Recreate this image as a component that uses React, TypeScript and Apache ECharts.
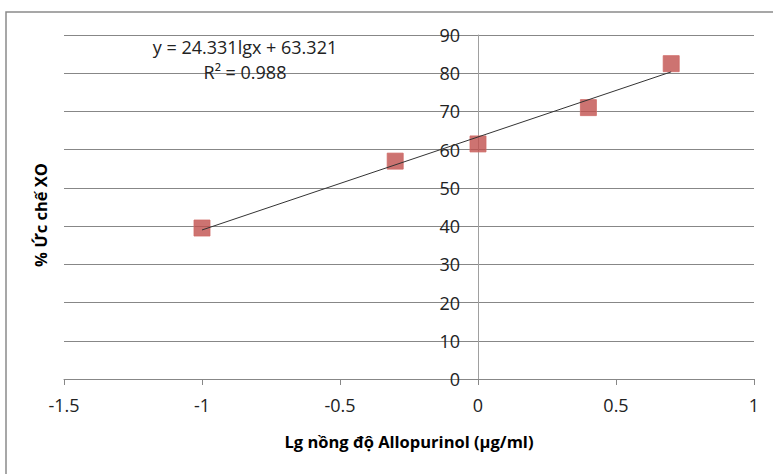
import React, { useEffect, useRef } from "react";
import * as echarts from "echarts";

const lgConc = [-1, -0.3, 0, 0.4, 0.7];
const inhibition = [39.5, 57, 61.5, 71, 82.5];
const trendCoef = [24.331, 63.321]; // slope, intercept
const trendX = [-1, 0.7];
const eqText = ["y = 24.331lgx + 63.321", "R² = 0.988"];

export default function App() {
  const ref = useRef<HTMLDivElement>(null);
  useEffect(() => {
    document.body.style.margin = "0";
    const chart = echarts.init(ref.current!, null, { renderer: "svg" });
    const font = "'Open Sans', 'Noto Sans', sans-serif";
    const gray = "#878787";
    chart.setOption({
      animation: false,
      backgroundColor: "#ffffff",
      grid: { left: 64, right: 19, top: 35, bottom: 95 },
      xAxis: {
        type: "value",
        min: -1.5,
        max: 1,
        interval: 0.5,
        name: "Lg nồng độ Allopurinol (µg/ml)",
        nameLocation: "middle",
        nameGap: 54,
        nameTextStyle: { fontFamily: font, fontSize: 16.5, fontWeight: "bold", color: "#000" },
        axisLine: { onZero: false, lineStyle: { color: gray, width: 1 } },
        axisTick: { show: true, length: 6, lineStyle: { color: gray } },
        axisLabel: { fontFamily: font, fontSize: 18, color: "#222", margin: 17 },
        splitLine: { show: false },
      },
      yAxis: {
        type: "value",
        min: 0,
        max: 90,
        interval: 10,
        offset: -414,
        axisLine: { show: true, onZero: false, lineStyle: { color: "#a0a0a0", width: 1 } },
        axisTick: { show: false },
        axisLabel: { fontFamily: font, fontSize: 18, color: "#222", margin: 18 },
        splitLine: { show: true, lineStyle: { color: gray, width: 1 } },
      },
      graphic: [
        {
          type: "rect",
          shape: { x: 6, y: 12, width: 800, height: 500 },
          style: { fill: "none", stroke: "#8a8a8a", lineWidth: 1.5 },
          silent: true,
        },
        {
          type: "text",
          x: 40,
          y: 215,
          rotation: Math.PI / 2,
          style: {
            text: "% Ức chế XO",
            fontFamily: font,
            fontSize: 16.5,
            fontWeight: "bold",
            fill: "#000",
            align: "center",
            verticalAlign: "middle",
          },
        },
        {
          type: "text",
          x: 245,
          y: 47,
          style: {
            text: eqText[0],
            fontFamily: font,
            fontSize: 18,
            fill: "#222",
            align: "center",
            verticalAlign: "middle",
          },
          z: 10,
        },
        {
          type: "text",
          x: 245,
          y: 72,
          style: {
            text: eqText[1],
            fontFamily: font,
            fontSize: 18,
            fill: "#222",
            align: "center",
            verticalAlign: "middle",
          },
          z: 10,
        },
      ],
      series: [
        {
          type: "scatter",
          data: lgConc.map((x, i) => [x, inhibition[i]]),
          symbol: "rect",
          symbolSize: 16,
          itemStyle: { color: "#C0504D", borderColor: "#cf6a66", borderWidth: 1 },
          z: 2,
        },
        {
          type: "line",
          data: trendX.map((x) => [x, trendCoef[0] * x + trendCoef[1]]),
          symbol: "none",
          lineStyle: { color: "#333", width: 1 },
          z: 3,
        },
      ],
    });
    return () => chart.dispose();
  }, []);
  return <div ref={ref} style={{ width: 773, height: 474 }} />;
}
